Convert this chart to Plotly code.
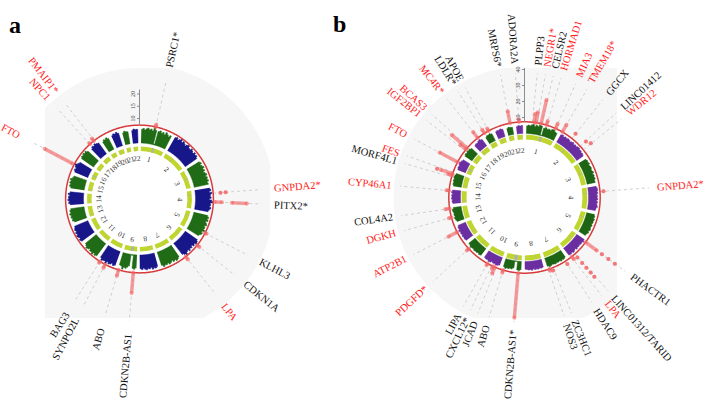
import numpy as np
import plotly.graph_objects as go

W, H = 708, 405
FONT = "Liberation Serif"

# ---------------- data ----------------
chrom_names = [str(i) for i in range(1, 23)]
chrom_len_mb = [249.3, 243.2, 198.0, 191.2, 180.9, 171.1, 159.1, 146.4, 141.2, 135.5,
                135.0, 133.9, 115.2, 107.3, 102.5, 90.4, 81.2, 78.1, 59.1, 63.0, 48.1, 51.3]
centro_start_mb = [121.5, 90.5, 87.9, 48.2, 46.1, 58.5, 58.1, 43.6, 39.0, 39.2, 51.6, 33.3,
                   16.3, 16.1, 15.8, 35.3, 22.3, 15.4, 24.6, 25.6, 10.9, 12.9]
centro_end_mb = [142.5, 96.8, 93.9, 52.7, 50.7, 62.6, 61.9, 48.1, 68.7, 42.2, 55.0, 38.2,
                 19.5, 19.1, 20.7, 46.4, 25.8, 19.0, 27.8, 29.6, 14.3, 16.3]

# binned -log10(p) maxima per chromosome (panel a)
manhattan_a = [
    [5.6, 6.0, 5.4, 5.9, 6.3, 5.7, 6.1, 5.5, 7.2, 6.0, 0.3, 5.8, 6.2, 5.5, 6.0, 5.3, 6.4, 5.8, 5.2, 5.9],
    [6.2, 6.6, 5.9, 6.4, 7.0, 6.1, 6.8, 6.3, 5.8, 6.5, 6.9, 6.2, 6.0, 6.7, 6.3, 5.9, 6.6, 6.1, 6.4, 5.8],
    [5.9, 6.3, 5.6, 6.1, 6.5, 5.8, 6.2, 5.5, 6.0, 6.4, 5.7, 6.2, 5.9, 6.3, 5.6, 5.9],
    [6.1, 6.5, 5.8, 6.8, 6.2, 6.0, 6.4, 5.7, 6.6, 7.1, 6.1, 6.3, 5.9, 6.5, 6.0, 5.6],
    [5.8, 6.4, 6.0, 6.5, 5.7, 6.2, 6.6, 5.9, 6.3, 6.1, 6.8, 5.8, 6.4, 6.0, 5.5],
    [6.0, 6.5, 6.8, 6.1, 6.4, 5.7, 6.3, 6.0, 6.6, 5.9, 6.2, 6.9, 6.4, 5.8],
    [5.7, 6.2, 6.5, 5.9, 6.3, 5.6, 6.1, 6.4, 5.8, 6.2, 6.0, 6.5, 5.7],
    [5.6, 6.1, 5.8, 6.3, 5.5, 6.0, 5.7, 6.2, 5.9, 5.4, 6.0, 5.6],
    [5.3, 5.9, 5.6, 0.3, 0.3, 4.8, 5.4, 6.0, 5.7, 6.6, 5.5, 5.2],
    [6.0, 6.4, 5.7, 6.2, 6.5, 5.9, 6.8, 6.1, 6.3, 6.6, 5.8],
    [6.2, 6.6, 6.0, 6.9, 6.3, 6.5, 5.9, 6.4, 6.7, 6.1, 5.8],
    [6.4, 6.8, 6.2, 6.6, 6.9, 6.3, 6.7, 6.1, 6.5, 6.2, 5.9],
    [5.2, 5.9, 5.6, 6.1, 5.8, 6.3, 5.7, 6.0, 5.5],
    [5.5, 6.1, 5.8, 6.4, 6.0, 6.2, 5.7, 6.3, 5.6],
    [5.6, 6.2, 5.9, 6.4, 6.0, 6.5, 5.8, 5.5],
    [5.8, 6.3, 5.9, 6.5, 7.0, 6.2, 5.7],
    [6.0, 6.5, 6.2, 6.7, 6.3, 6.6, 5.9],
    [5.4, 6.0, 5.7, 6.2, 5.8, 5.5],
    [4.8, 5.4, 5.1, 5.6, 5.0],
    [5.3, 5.8, 5.5, 6.0, 5.4],
    [4.9, 5.5, 5.2, 5.0],
    [5.2, 5.8, 5.5, 5.6],
]

# binned -log10(p) maxima per chromosome (panel b)
manhattan_b = [
    [4.8, 5.3, 4.9, 5.6, 6.1, 5.0, 5.8, 5.2, 6.4, 6.0, 0.3, 5.1, 5.7, 4.9, 5.4, 5.0, 5.9, 6.2, 5.3, 4.9],
    [5.4, 5.9, 5.2, 5.7, 5.3, 5.8, 5.6, 5.1, 5.5, 6.0, 5.3, 5.7, 5.4, 5.9, 6.2, 5.6, 5.8, 5.2, 5.5, 5.0],
    [5.1, 5.6, 5.3, 5.8, 5.0, 5.5, 5.7, 5.2, 5.4, 5.9, 5.1, 5.6, 5.3, 5.7, 5.0, 5.2],
    [5.3, 5.8, 6.0, 5.5, 5.9, 5.2, 5.6, 5.4, 5.8, 5.1, 5.7, 5.3, 5.6, 5.9, 5.2, 5.0],
    [5.0, 5.5, 5.2, 5.8, 5.4, 5.6, 5.1, 5.7, 5.3, 5.5, 5.9, 5.2, 5.6, 5.0, 4.8],
    [5.6, 6.2, 5.4, 5.8, 5.3, 5.7, 5.5, 5.9, 5.2, 5.6, 6.1, 5.4, 5.8, 5.5],
    [5.1, 5.7, 5.4, 5.9, 5.2, 5.6, 5.3, 5.8, 5.5, 5.2, 5.7, 6.0, 5.3],
    [5.0, 5.4, 5.1, 5.6, 5.3, 5.5, 5.0, 5.7, 5.2, 5.4, 5.1, 4.9],
    [5.2, 5.8, 5.5, 0.3, 0.3, 4.6, 5.4, 5.0, 5.6, 5.3, 5.9, 5.1],
    [5.1, 5.6, 5.8, 5.3, 5.5, 5.0, 5.7, 5.9, 5.2, 5.4, 5.0],
    [5.3, 5.7, 5.1, 5.6, 5.4, 5.8, 5.2, 5.5, 5.9, 5.3, 5.0],
    [5.2, 5.6, 5.4, 5.8, 5.3, 5.7, 5.5, 6.0, 5.4, 5.6, 5.1],
    [4.7, 5.2, 5.6, 5.0, 5.4, 5.1, 5.5, 5.8, 5.0],
    [4.9, 5.4, 5.1, 5.6, 5.3, 5.5, 5.0, 5.7, 5.2],
    [5.0, 5.5, 5.2, 5.7, 5.4, 5.9, 5.6, 5.1],
    [5.2, 5.6, 5.3, 5.8, 6.2, 5.5, 5.0],
    [5.4, 5.9, 5.5, 6.0, 5.6, 5.8, 5.2],
    [4.9, 5.3, 5.0, 5.6, 5.8, 5.1],
    [4.6, 5.3, 5.0, 5.5, 4.8],
    [4.8, 5.2, 5.0, 5.4, 4.9],
    [4.4, 5.0, 4.7, 4.5],
    [4.6, 5.1, 4.8, 5.0],
]

GWS = 7.3  # genome-wide significance, -log10(5e-8)

# significant signals beyond the threshold: chromosome, position (Mb), low / high -log10(p)
sig_a_chrom = [1, 4, 4, 4, 4, 5, 6, 6, 9, 9, 10, 10, 16, 18, 18]
sig_a_pos = [109.8, 44.7, 44.7, 111.5, 111.5, 137.0, 36.6, 160.9, 22.0, 136.1, 75.4, 121.4, 53.8, 21.1, 57.6]
sig_a_lo = [7.3, 10.3, 12.4, 7.9, 14.9, 7.3, 7.3, 7.3, 7.3, 7.3, 7.3, 7.3, 8.2, 7.3, 7.3]
sig_a_hi = [8.3, 10.3, 12.4, 10.8, 21.0, 8.0, 8.5, 8.8, 15.6, 9.8, 8.9, 8.0, 20.9, 7.9, 8.6]

sig_b_chrom = [1, 1, 1, 1, 1, 2, 2, 2, 2, 4, 6, 6, 6, 6, 6, 6, 6, 6, 6, 6, 7, 7, 7,
               9, 9, 10, 10, 10, 11, 12, 13, 13, 14, 15, 15, 15, 16, 17, 17, 18, 19, 19, 21, 22]
sig_b_pos = [56.9, 72.7, 109.8, 150.7, 222.8, 0.67, 85.8, 173.0, 203.7, 44.7,
             12.9, 12.9, 12.9, 12.9, 134.0, 134.0, 134.0, 134.0, 134.0, 160.9, 18.3, 129.6, 150.7,
             22.0, 136.1, 30.6, 44.9, 91.0, 103.8, 90.0, 42.7, 111.0, 100.2, 79.2, 91.4, 91.4,
             53.8, 47.1, 59.0, 58.0, 11.2, 45.4, 35.4, 24.8]
sig_b_lo = [7.3, 7.3, 7.3, 7.3, 7.3, 7.3, 11.0, 12.0, 13.5, 9.5,
            7.3, 20.0, 25.0, 30.0, 10.0, 14.5, 18.5, 22.5, 26.0, 7.3, 9.5, 9.0, 7.3,
            7.3, 7.3, 7.3, 7.3, 7.3, 7.3, 7.3, 7.3, 7.3, 7.3, 7.3, 7.3, 17.5,
            7.3, 7.3, 7.3, 7.3, 7.3, 7.3, 7.3, 7.3]
sig_b_hi = [12.8, 14.0, 22.5, 10.0, 10.5, 12.5, 11.0, 12.0, 13.5, 9.5,
            16.0, 20.0, 25.0, 30.0, 10.0, 14.5, 18.5, 22.5, 26.0, 9.5, 9.5, 9.0, 8.5,
            35.5, 9.0, 11.6, 9.0, 8.5, 9.0, 13.5, 9.0, 10.0, 9.0, 10.0, 15.0, 17.5,
            20.0, 12.0, 20.0, 12.0, 10.0, 9.0, 15.0, 9.0]

# gene labels: text, chromosome, position (Mb), highlighted (red)
label_a_text = ["PSRC1*", "GNPDA2*", "PITX2*", "KLHL3", "CDKN1A", "LPA", "CDKN2B-AS1",
                "ABO", "SYNPO2L", "BAG3", "FTO", "NPC1", "PMAIP1*"]
label_a_chrom = [1, 4, 4, 5, 6, 6, 9, 9, 10, 10, 16, 18, 18]
label_a_pos = [109.8, 44.7, 111.5, 137.0, 36.6, 160.9, 22.0, 136.1, 75.4, 121.4, 53.8, 21.1, 57.6]
label_a_red = [0, 1, 0, 0, 0, 1, 0, 0, 0, 0, 1, 1, 1]

label_b_text = ["PLPP3", "NEGR1*", "CELSR2", "HORMAD1", "MIA3", "TMEM18*", "GGCX", "LINC01412",
                "WDR12", "GNPDA2*", "PHACTR1", "LINC01312/TARID", "LPA", "HDAC9", "ZC3HC1",
                "NOS3", "CDKN2B-AS1*", "ABO", "JCAD", "CXCL12*", "LIPA", "PDGFD*", "ATP2B1",
                "DGKH", "COL4A2", "CYP46A1", "MORF4L1", "FES", "FTO", "IGF2BP1", "BCAS3",
                "MC4R*", "LDLR*", "APOE", "MRPS6*", "ADORA2A"]
label_b_chrom = [1, 1, 1, 1, 1, 2, 2, 2, 2, 4, 6, 6, 6, 7, 7, 7, 9, 9, 10, 10, 10, 11, 12,
                 13, 13, 14, 15, 15, 16, 17, 17, 18, 19, 19, 21, 22]
label_b_pos = [56.9, 72.7, 109.8, 150.7, 222.8, 0.67, 85.8, 173.0, 203.7, 44.7, 12.9, 134.0,
               160.9, 18.3, 129.6, 150.7, 22.0, 136.1, 30.6, 44.9, 91.0, 103.8, 90.0, 42.7,
               111.0, 100.2, 79.2, 91.4, 53.8, 47.1, 59.0, 58.0, 11.2, 45.4, 35.4, 24.8]
label_b_red = [0, 1, 0, 1, 1, 1, 0, 0, 1, 1, 0, 0, 1, 0, 0, 0, 0, 0, 0, 0, 0, 1, 1,
               1, 0, 1, 0, 1, 1, 1, 1, 1, 0, 0, 0, 0]

ticks_a = [10, 15, 20]
ticks_b = [10, 20, 30, 40]

# ---------------- geometry / style ----------------
GAP = 3.0
cum = np.concatenate([[0.0], np.cumsum(chrom_len_mb)])
TOTAL = cum[-1]
SPAN = 360.0 - 22 * GAP


def ang(c, pos):
    return GAP / 2 + (c - 1) * GAP + SPAN * (cum[c - 1] + pos) / TOTAL


PANELS = {
    "a": dict(polar="polar", cx=139.5, cy=199.0, R=130.0, vmin=-56 / 2.45, vmax=74 / 2.45,
              ring=(-3.3, -1.45), chrlab=40.5, colors=("#1f6b16", "#17178a"),
              ticks=ticks_a, axis_top=21.8, label_r=135, label_gap=4.4, guide_top=27,
              rect=(45, 270, 68, 318), corner=(131, 135, 135, 200)),
    "b": dict(polar="polar2", cx=524.5, cy=197.5, R=130.0, vmin=-40.0, vmax=66 / 1.6,
              ring=(-3.75, -0.7), chrlab=47.0, colors=("#1d6414", "#6a2ea0"),
              ticks=ticks_b, axis_top=41.0, label_r=133, label_gap=3.7, guide_top=38,
              rect=(390, 617, 68, 318), corner=(131, 220, 134, 131)),
}

RED = "#d63a3a"
SIG = "rgba(243,105,105,0.65)"
IDEO = "#bfd62e"
CEN = "#b0b0b0"
LABEL_SIZE = 10.5

TIMES_W = dict(A=.722, B=.667, C=.667, D=.722, E=.611, F=.556, G=.722, H=.722, I=.333, J=.389,
               K=.722, L=.611, M=.889, N=.722, O=.722, P=.556, Q=.722, R=.667, S=.556, T=.611,
               U=.722, V=.722, W=.944, X=.722, Y=.722, Z=.611)


def text_width(s, size):
    w = 0
    for ch in s:
        if ch in TIMES_W:
            w += TIMES_W[ch]
        elif ch.isdigit() or ch == "*":
            w += 0.5
        elif ch == "-":
            w += 0.333
        elif ch == "/":
            w += 0.278
        else:
            w += 0.45
    return w * size


def spread(angles, gap):
    a = np.array(angles, float)
    order = np.argsort(a)
    s = a[order]
    for _ in range(300):
        moved = False
        for i in range(1, len(s)):
            d = s[i] - s[i - 1]
            if d < gap - 1e-6:
                sh = (gap - d) / 2
                s[i - 1] -= sh
                s[i] += sh
                moved = True
        if not moved:
            break
    out = np.empty_like(s)
    out[order] = s
    return out


def to_paper(p, theta, r_pixels):
    t = np.radians(theta)
    x = p["cx"] + r_pixels * np.sin(t)
    y = p["cy"] - r_pixels * np.cos(t)
    return x / W, 1 - y / H


def rpx(p, v):
    return (v - p["vmin"]) / (p["vmax"] - p["vmin"]) * p["R"]


fig = go.Figure()
shapes = []
annotations = []


def gray_path(p):
    x0, x1, y0, y1 = p["rect"]
    tl, tr, br, bl = p["corner"]
    pts = []
    for phi in np.arange(0, 360, 0.5):
        if phi < 90:
            R = tr
        elif phi < 180:
            R = br
        elif phi < 270:
            R = bl
        else:
            R = tl
        t = np.radians(phi)
        x = min(max(p["cx"] + R * np.sin(t), x0), x1)
        y = min(max(p["cy"] - R * np.cos(t), y0), y1)
        pts.append((x / W, 1 - y / H))
    return "M " + " L ".join(f"{x:.5f},{y:.5f}" for x, y in pts) + " Z"


for key, man, sig, labs in [
    ("a", manhattan_a, (sig_a_chrom, sig_a_pos, sig_a_lo, sig_a_hi),
     (label_a_text, label_a_chrom, label_a_pos, label_a_red)),
    ("b", manhattan_b, (sig_b_chrom, sig_b_pos, sig_b_lo, sig_b_hi),
     (label_b_text, label_b_chrom, label_b_pos, label_b_red)),
]:
    p = PANELS[key]
    sp = p["polar"]

    # background
    shapes.append(dict(type="path", xref="paper", yref="paper", path=gray_path(p),
                       fillcolor="#f6f6f6", line=dict(width=0), layer="below"))
    rc = rpx(p, GWS)
    shapes.append(dict(type="circle", xref="paper", yref="paper",
                       x0=(p["cx"] - rc) / W, x1=(p["cx"] + rc) / W,
                       y0=1 - (p["cy"] + rc) / H, y1=1 - (p["cy"] - rc) / H,
                       fillcolor="white", line=dict(width=0), layer="below"))

    # label angles
    texts, lchr, lpos, lred = labs
    lang = spread([ang(c, q) for c, q in zip(lchr, lpos)], p["label_gap"])

    # dotted guide lines
    th, rr = [], []
    for a in lang:
        th += [a, a, None]
        rr += [GWS, p["guide_top"], None]
    fig.add_trace(go.Scatterpolar(theta=th, r=rr, mode="lines", subplot=sp,
                                  line=dict(color="#cfcfcf", width=1, dash="dot"),
                                  hoverinfo="skip", showlegend=False))

    # manhattan profile: one filled outline per chromosome
    for i, vals in enumerate(man):
        a0 = ang(i + 1, 0)
        a1 = ang(i + 1, chrom_len_mb[i])
        bw = (a1 - a0) / len(vals)
        th, rr = [], []
        for j, v in enumerate(vals):
            th += [a0 + j * bw, a0 + (j + 1) * bw]
            rr += [v, v]
        back = np.linspace(a1, a0, int((a1 - a0) / 0.5) + 2)
        th += list(back)
        rr += [0] * len(back)
        col = p["colors"][i % 2]
        fig.add_trace(go.Scatterpolar(theta=th, r=rr, mode="lines", fill="toself", subplot=sp,
                                      fillcolor=col, line=dict(color=col, width=0.5),
                                      hoverinfo="skip", showlegend=False))

    # ideogram ring
    lo, hi = p["ring"]
    th = [(ang(i + 1, 0) + ang(i + 1, chrom_len_mb[i])) / 2 for i in range(22)]
    ww = [ang(i + 1, chrom_len_mb[i]) - ang(i + 1, 0) for i in range(22)]
    fig.add_trace(go.Barpolar(theta=th, r=[hi - lo] * 22, width=ww, base=lo, subplot=sp,
                              marker=dict(color=IDEO, line=dict(width=0)),
                              hoverinfo="skip", showlegend=False))
    th = [(ang(i + 1, centro_start_mb[i]) + ang(i + 1, centro_end_mb[i])) / 2 for i in range(22)]
    ww = [ang(i + 1, centro_end_mb[i]) - ang(i + 1, centro_start_mb[i]) for i in range(22)]
    fig.add_trace(go.Barpolar(theta=th, r=[hi - lo] * 22, width=ww, base=lo, subplot=sp,
                              marker=dict(color=CEN, line=dict(width=0)),
                              hoverinfo="skip", showlegend=False))

    # threshold circle
    fig.add_trace(go.Scatterpolar(theta=np.linspace(0, 360, 721), r=[GWS] * 721, mode="lines",
                                  subplot=sp, line=dict(color=RED, width=1.5),
                                  hoverinfo="skip", showlegend=False))

    # significant signals
    sc, spos, slo, shi = sig
    th, rr = [], []
    for c, q, l, h in zip(sc, spos, slo, shi):
        a = ang(c, q)
        th += [a, a, None]
        rr += [l, h, None]
    fig.add_trace(go.Scatterpolar(theta=th, r=rr, mode="lines+markers", subplot=sp,
                                  line=dict(color=SIG, width=3.5),
                                  marker=dict(color=SIG, size=4),
                                  hoverinfo="skip", showlegend=False, connectgaps=False))

    # radial axis line
    fig.add_trace(go.Scatterpolar(theta=[0, 0], r=[GWS, p["axis_top"]], mode="lines", subplot=sp,
                                  line=dict(color="#8c8c8c", width=1),
                                  hoverinfo="skip", showlegend=False))

    # chromosome labels
    for i, name in enumerate(chrom_names):
        a = (ang(i + 1, 0) + ang(i + 1, chrom_len_mb[i])) / 2
        x, y = to_paper(p, a, p["chrlab"])
        annotations.append(dict(x=x, y=y, xref="paper", yref="paper", text=name,
                                showarrow=False, textangle=a, xanchor="center", yanchor="middle",
                                font=dict(family=FONT, size=7.5, color="#333333")))

    # gene labels
    for t, a, red in zip(texts, lang, lred):
        wpx = text_width(t, LABEL_SIZE)
        rc_lab = p["label_r"] + wpx / 2
        x, y = to_paper(p, a, rc_lab)
        rot = a - 90 if a < 180 else a - 270
        annotations.append(dict(x=x, y=y, xref="paper", yref="paper", text=t,
                                showarrow=False, textangle=rot, xanchor="center", yanchor="middle",
                                font=dict(family=FONT, size=LABEL_SIZE,
                                          color="#ff1a1a" if red else "#111111")))


def polar_layout(p):
    x0 = (p["cx"] - p["R"]) / W
    x1 = (p["cx"] + p["R"]) / W
    y0 = 1 - (p["cy"] + p["R"]) / H
    y1 = 1 - (p["cy"] - p["R"]) / H
    return dict(
        domain=dict(x=[x0, x1], y=[y0, y1]),
        bgcolor="rgba(0,0,0,0)",
        barmode="overlay",
        angularaxis=dict(visible=False, direction="clockwise", rotation=90,
                         showgrid=False, showline=False),
        radialaxis=dict(range=[p["vmin"], p["vmax"]], angle=90, showline=False, showgrid=False,
                        tickvals=p["ticks"], ticks="outside", ticklen=2, tickcolor="#8c8c8c",
                        side="counterclockwise", tickangle=0,
                        tickfont=dict(family=FONT, size=6, color="#444444"), layer="above traces"),
    )


annotations.append(dict(x=7 / W, y=1 - 10 / H, xref="paper", yref="paper", text="<b>a</b>",
                        showarrow=False, font=dict(family=FONT, size=24, color="black")))
annotations.append(dict(x=339 / W, y=1 - 9 / H, xref="paper", yref="paper", text="<b>b</b>",
                        showarrow=False, font=dict(family=FONT, size=24, color="black")))

fig.update_layout(
    width=W, height=H, margin=dict(l=0, r=0, t=0, b=0),
    paper_bgcolor="white", plot_bgcolor="white",
    polar=polar_layout(PANELS["a"]), polar2=polar_layout(PANELS["b"]),
    shapes=shapes, annotations=annotations, showlegend=False,
    font=dict(family=FONT),
)

fig.write_html("out.html", config={"displayModeBar": False},
               post_script="document.body.style.margin='0px';")
